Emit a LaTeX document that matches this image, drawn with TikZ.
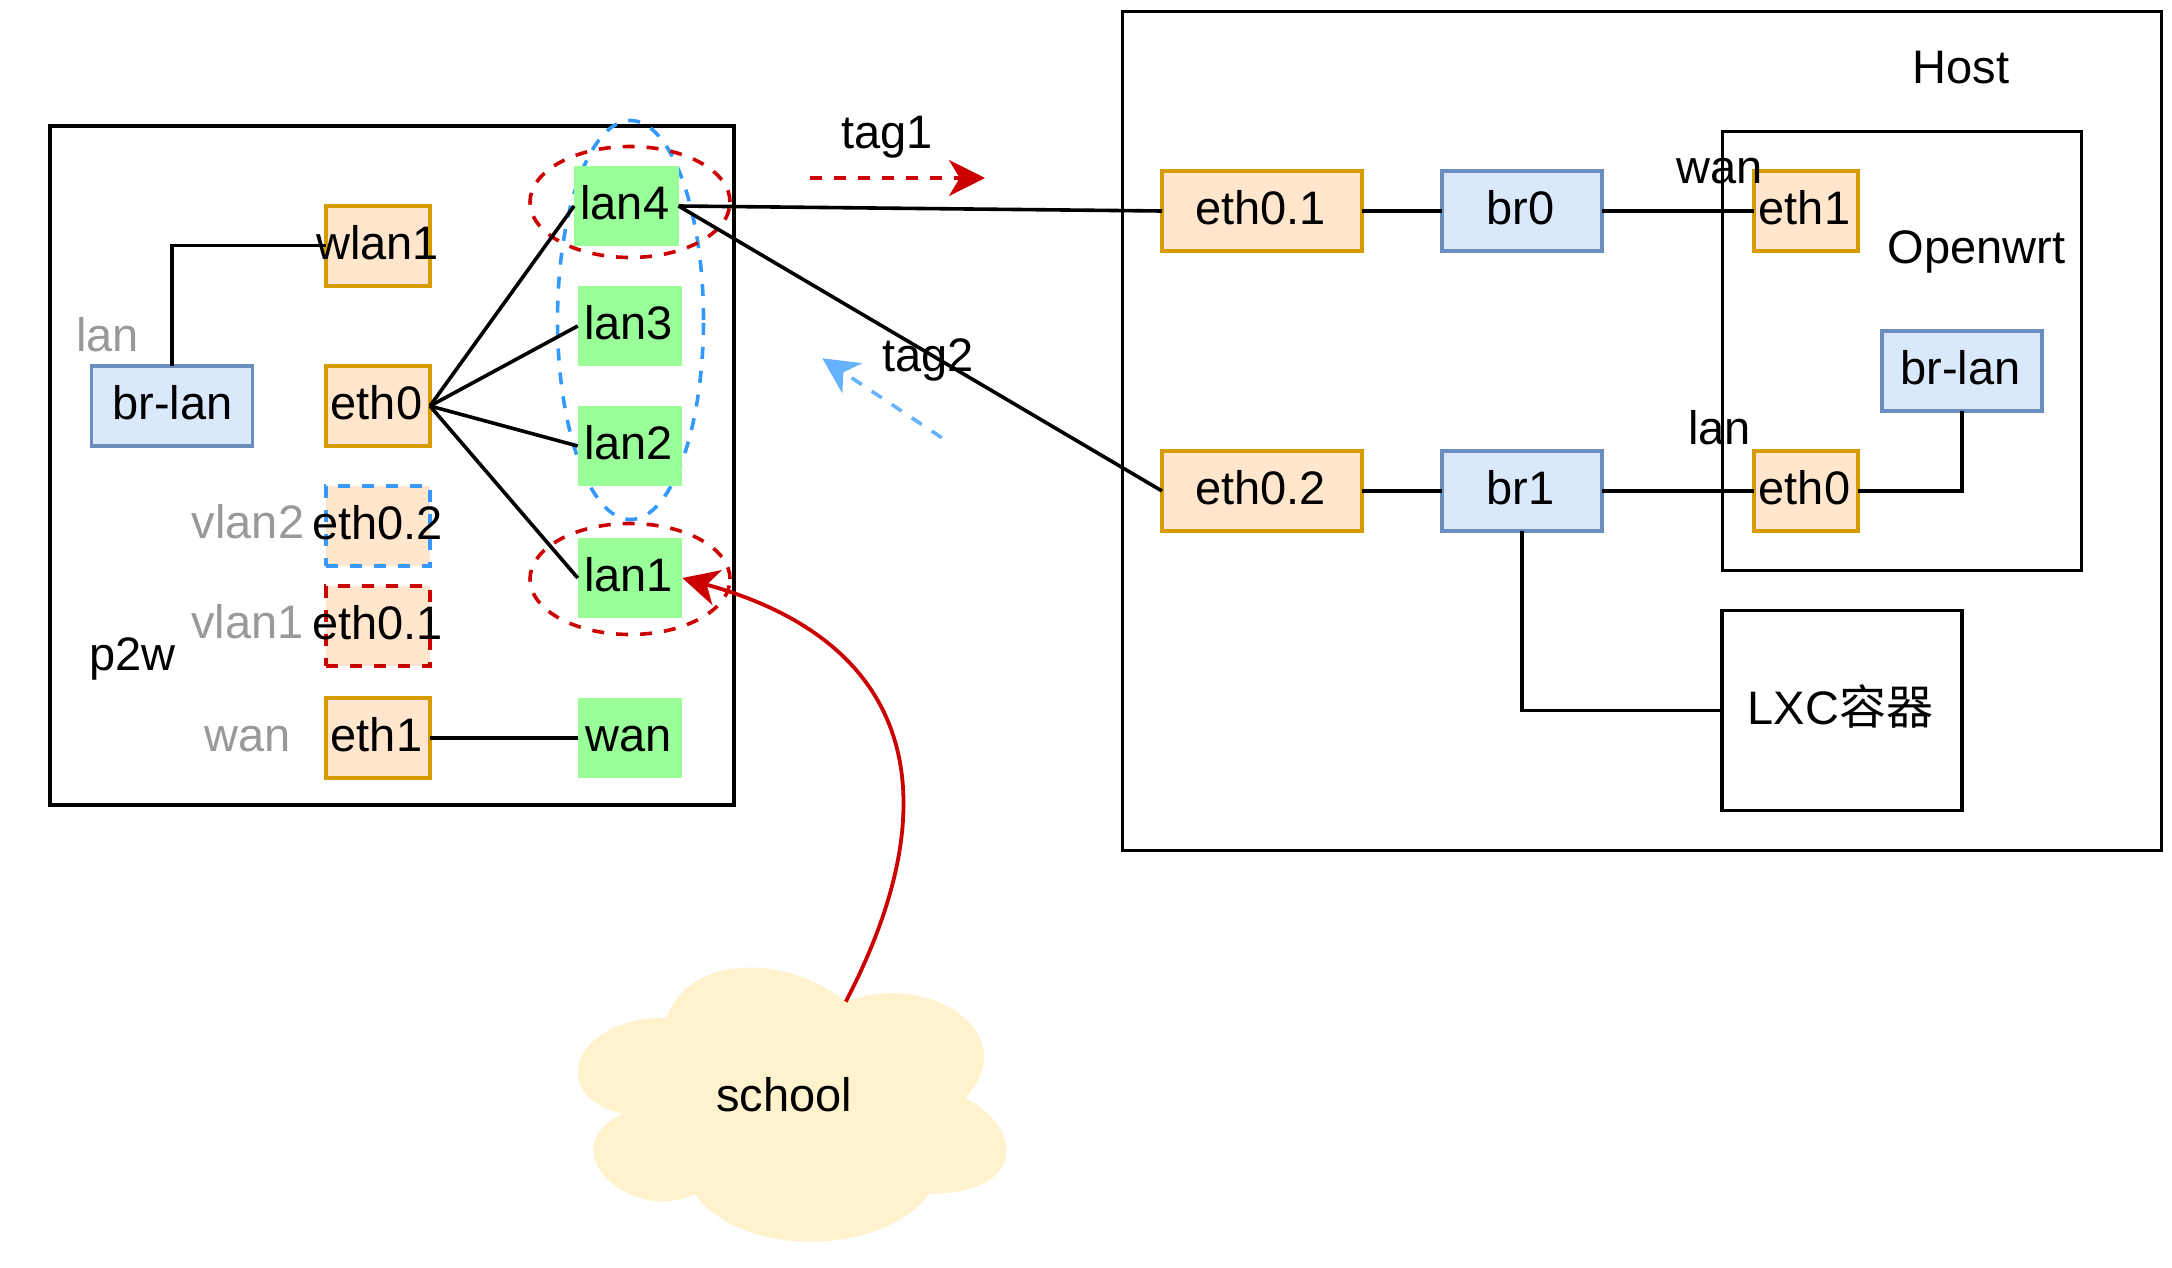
\documentclass[tikz,border=0pt]{standalone}
\usepackage{fontspec}
\setmainfont{Liberation Sans}
\newfontfamily\cjk{Noto Sans CJK SC}
\usetikzlibrary{arrows.meta,shapes.geometric}
\definecolor{orstroke}{HTML}{D79B00}
\definecolor{orfill}{HTML}{FFE6CC}
\definecolor{blstroke}{HTML}{6C8EBF}
\definecolor{blfill}{HTML}{DAE8FC}
\definecolor{grfill}{HTML}{99FF99}
\definecolor{redc}{HTML}{CC0000}
\definecolor{dashblue}{HTML}{3399FF}
\definecolor{lightblue}{HTML}{66B2FF}
\definecolor{cloudfill}{HTML}{FFF2CC}
\definecolor{graytxt}{HTML}{999999}
\newcommand{\tightlabel}[1]{\makebox[0pt]{\hspace*{2pt}#1}}
\tikzset{
  basefont/.style={font=\fontsize{47}{51}\selectfont},
  boxtext/.style={basefont,align=center,text height=35.5pt,text depth=8pt,inner sep=0pt,outer sep=0pt,
    execute at begin node={\hspace*{-3pt}}},
  noshift/.style={execute at begin node={}},
  frame/.style={draw=black,line width=3.8pt,fill=none,inner sep=0pt,outer sep=0pt},
  orbox/.style={boxtext,draw=orstroke,fill=orfill,line width=3.8pt,minimum height=80pt},
  blbox/.style={boxtext,draw=blstroke,fill=blfill,line width=3.8pt,minimum height=80pt},
  grbox/.style={boxtext,fill=grfill,minimum width=104.5pt,minimum height=80pt},
  lbl/.style={basefont,anchor=base,inner sep=0pt},
  graylbl/.style={lbl,text=graytxt},
  conn/.style={draw=black,line width=3.6pt},
  dashline/.style={line width=3.6pt,dash pattern=on 12pt off 12pt},
  bigtip/.style={-{Stealth[length=36pt,width=36pt,inset=10.7pt]}}
}
\begin{document}
\begin{tikzpicture}[x=1pt,y=-1pt]
\useasboundingbox (0,0) rectangle (2172,1268);

% frames
\node[frame,minimum width=684pt,minimum height=679pt] (p2wbox) at (392,465.5) {};
\node[frame,minimum width=1039pt,minimum height=839pt] (hostbox) at (1642,431) {};
\node[frame,minimum width=359pt,minimum height=439pt] (openwrtbox) at (1902,351) {};

% dashed groups
\node[draw=dashblue,dashline,ellipse,minimum width=146pt,minimum height=399pt,inner sep=0pt] (bluegroup) at (630.5,320) {};
\node[draw=redc,dashline,ellipse,minimum width=200pt,minimum height=111pt,inner sep=0pt] (redgroupa) at (630,202) {};
\node[draw=redc,dashline,ellipse,minimum width=200pt,minimum height=111pt,inner sep=0pt] (redgroupb) at (630,579) {};

% left device
\node[blbox,noshift,minimum width=161pt] (brlanl) at (172,406) {\hspace*{4pt}br-lan};
\node[orbox,noshift,minimum width=104pt] (wlan) at (378,245.7) {\tightlabel{wlan1}};
\node[orbox,minimum width=104pt] (eth0l) at (378,406) {eth0};
\node[orbox,noshift,minimum width=104pt,draw=dashblue,dashline] (eth02l) at (378,526) {\tightlabel{eth0.2}};
\node[orbox,noshift,minimum width=104pt,draw=redc,dashline] (eth01l) at (378,625.7) {\tightlabel{eth0.1}};
\node[orbox,minimum width=104pt] (eth1l) at (378,738) {eth1};
\node[grbox] (lan4) at (626.3,206) {lan4};
\node[grbox] (lan3) at (630,326) {lan3};
\node[grbox] (lan2) at (630,446) {lan2};
\node[grbox] (lan1) at (630,578) {lan1};
\node[grbox] (wanl) at (630,738) {wan};

\node[graylbl] (tlan) at (107.5,351.6) {lan};
\node[graylbl] (tvlan2) at (248,538.5) {vlan2};
\node[graylbl] (tvlan1) at (247.5,638.5) {vlan1};
\node[lbl] (tp2w) at (132.6,670.7) {p2w};
\node[graylbl] (twan) at (248,751) {wan};

% host
\node[orbox,minimum width=200pt] (eth01r) at (1262,211) {eth0.1};
\node[blbox,minimum width=160pt] (br0) at (1521.7,211) {br0};
\node[orbox,minimum width=104pt] (eth1r) at (1806,211) {eth1};
\node[blbox,minimum width=160pt] (brlanr) at (1962,371) {br-lan};
\node[orbox,minimum width=200pt] (eth02r) at (1262,491) {eth0.2};
\node[blbox,minimum width=160pt] (br1) at (1521.7,491) {br1};
\node[orbox,minimum width=104pt] (eth0r) at (1806,491) {eth0};
\node[frame,boxtext,minimum width=240pt,minimum height=200pt] (lxc) at (1842,710.5) {LXC{\cjk 容器}};

\node[lbl] (thost) at (1961,83.4) {Host};
\node[lbl] (topenwrt) at (1976.5,263) {Openwrt};
\node[lbl] (twanr) at (1719.5,183.5) {wan};
\node[lbl] (tlanr) at (1719.5,444) {lan};
\node[lbl] (ttag1) at (887,149) {tag1};
\node[lbl] (ttag2) at (928,371.5) {tag2};

% connectors
\draw[conn] (brlanl.north) |- (wlan.west);
\draw[conn] (eth0l.east) -- (lan4.west);
\draw[conn] (eth0l.east) -- (lan3.west);
\draw[conn] (eth0l.east) -- (lan2.west);
\draw[conn] (eth0l.east) -- (lan1.west);
\draw[conn] (eth1l.east) -- (wanl.west);
\draw[conn] (lan4.east) -- (eth01r.west);
\draw[conn] (lan4.east) -- (eth02r.west);
\draw[conn] (eth01r.east) -- (br0.west);
\draw[conn] (br0.east) -- (eth1r.west);
\draw[conn] (eth02r.east) -- (br1.west);
\draw[conn] (br1.east) -- (eth0r.west);
\draw[conn] (eth0r.east) -| (brlanr.south);
\draw[conn] (br1.south) |- (lxc.west);

% cloud
\begin{scope}[shift={(546.7,937.7)},x=478.5pt,y=-320pt]
  \fill[cloudfill] (0.25,0.25)
    .. controls (0.05,0.25) and (0,0.5) .. (0.16,0.55)
    .. controls (0,0.66) and (0.18,0.9) .. (0.31,0.8)
    .. controls (0.4,1) and (0.7,1) .. (0.8,0.8)
    .. controls (1,0.8) and (1,0.6) .. (0.875,0.5)
    .. controls (1,0.3) and (0.8,0.1) .. (0.625,0.2)
    .. controls (0.5,0.05) and (0.3,0.05) .. (0.25,0.25) -- cycle;
  \coordinate (cloudtop) at (0.625,0.2);
\end{scope}
\node[lbl] (school) at (784,1111) {school};

% tag arrows
\coordinate (t1a) at (810,178);
\coordinate (t1b) at (985,178);
\draw[redc,dashline,bigtip] (t1a) -- (t1b);
\coordinate (t2a) at (941.7,437.7);
\coordinate (t2b) at (822.3,358.3);
\draw[lightblue,dashline,bigtip] (t2a) -- (t2b);

% school arrow
\coordinate (lan1tip) at (682.3,578);
\draw[redc,line width=3.8pt,bigtip] (cloudtop) .. controls (956,790) and (908,640) .. (lan1tip);
\end{tikzpicture}
\end{document}
